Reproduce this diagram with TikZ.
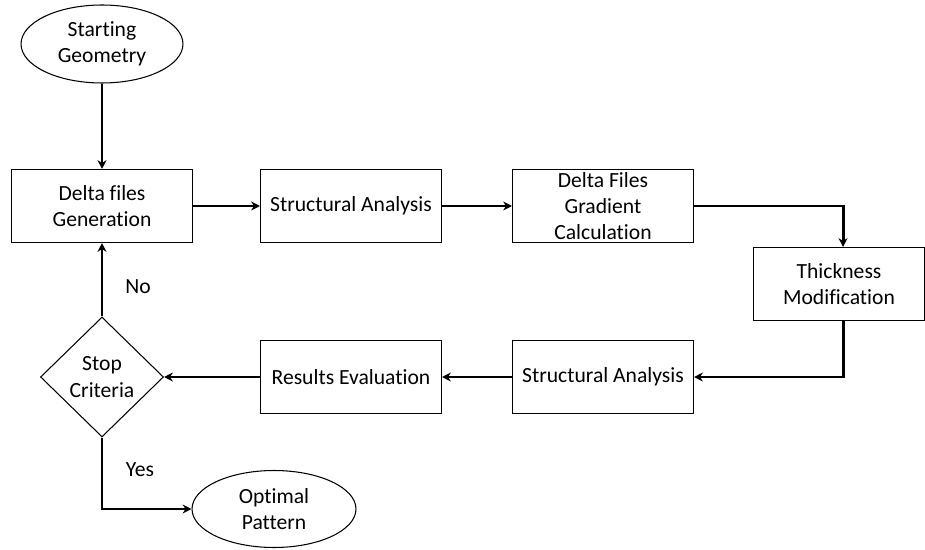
\documentclass[tikz,border=0pt]{standalone}
\usepackage{fontspec}
\setmainfont{Carlito}[Ligatures=NoCommon]
\usetikzlibrary{shapes.geometric,arrows.meta}

\tikzset{
	stepbox/.style={draw, line width=0.6pt, minimum width=3.62cm, minimum height=1.46cm, align=center, inner sep=1pt},
	termbox/.style={draw, ellipse, line width=0.6pt, align=center, inner sep=0pt},
	choicebox/.style={draw, diamond, line width=0.6pt, minimum width=2.46cm, minimum height=2.4cm, align=center, inner sep=0pt},
	flow/.style={line width=1.7pt, -{Stealth[length=5pt,width=5pt]}}
}

\begin{document}
\begin{tikzpicture}[x=0.02cm, y=-0.02cm, font=\fontsize{12.3}{15}\selectfont]
		%%%%% START %%%%%
		
		\useasboundingbox (0, 0) rectangle (925, 550);
		
		\node[termbox, minimum width=3.24cm, minimum height=1.56cm] (start) at (102, 44) {Starting\\Geometry};
		
		\node[stepbox] (gen) at (102, 206) {Delta files\\Generation};
		\node[stepbox] (sa1) at (351, 206) {Structural Analysis};
		\node[stepbox] (grad) at (603, 206) {Delta Files\\Gradient\\Calculation};
		\node[stepbox, minimum width=3.42cm] (thick) at (839, 284) {Thickness\\Modification};
		
		\node[stepbox] (sa2) at (603, 377) {Structural Analysis};
		\node[stepbox] (res) at (351, 377) {Results Evaluation};
		\node[choicebox] (stop) at (102, 377) {Stop\\Criteria};
		
		\node[termbox, minimum width=3.28cm, minimum height=1.54cm] (opt) at (274, 509) {Optimal\\Pattern};
		
		\draw[flow] (start) -- (gen);
		\draw[flow] (gen) -- (sa1);
		\draw[flow] (sa1) -- (grad);
		\draw[flow] (grad.east) -| ([xshift=0.08cm]thick.north);
		\draw[flow] ([xshift=0.08cm]thick.south) |- (sa2.east);
		\draw[flow] (sa2) -- (res);
		\draw[flow] (res) -- (stop.east);
		\draw[flow] (stop.north) -- (gen.south);
		\draw[flow] (stop.south) |- (opt.west);
		
		\node (no) at (138, 287) {No};
		\node (yes) at (140, 470) {Yes};
		
		%%%%% END %%%%%
\end{tikzpicture}
\end{document}
